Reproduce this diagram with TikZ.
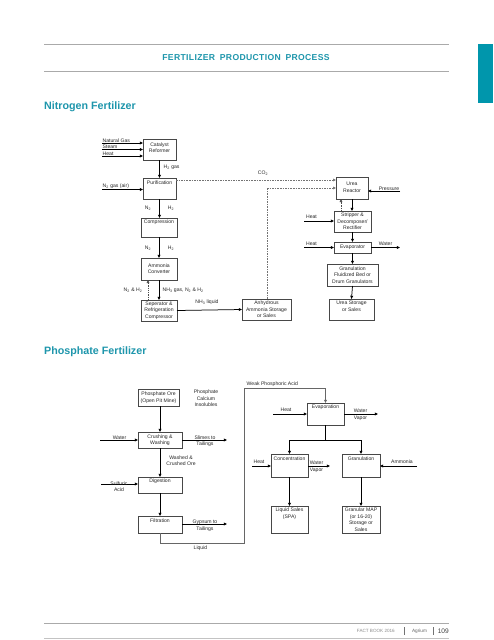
\documentclass[tikz,border=0pt]{standalone}
\usepackage{fontspec}
\setmainfont{Liberation Sans}
\usetikzlibrary{arrows.meta}
\definecolor{tabteal}{RGB}{0,150,172}
\definecolor{headteal}{RGB}{30,150,172}
\definecolor{rulegray}{RGB}{170,170,170}
\newcommand\mkbox[5]{\node[box, minimum width={#4-#2}, minimum height={#5-#3}] (#1) at ({(#2+#4)/2},{(#3+#5)/2}) {};}
\begin{document}
\begin{tikzpicture}[x=1pt,y=-1pt,
  box/.style={draw=black!72, line width=0.9pt, fill=white, inner sep=0pt, outer sep=0pt},
  lbl/.style={font=\fontsize{5.1}{6.6}\selectfont, inner sep=0.5pt, align=center, text=black!85},
  arr/.style={-{Triangle[length=3.2pt,width=2.8pt]}, line width=0.75pt},
  dotarr/.style={-{Triangle[length=3pt,width=2.6pt]}, line width=0.6pt, dash pattern=on 1pt off 0.8pt, draw=black!70},
  dsh/.style={line width=0.6pt, draw=black!55, dash pattern=on 1.6pt off 1pt},
  dsharr/.style={dsh, -{Triangle[length=3pt,width=2.6pt]}},
  head/.style={font=\bfseries\fontsize{10.7}{12}\selectfont, text=headteal, inner sep=0pt, anchor=west},
  rule/.style={draw=rulegray, line width=0.8pt}
]
\useasboundingbox (0,0) rectangle (493,640);
\fill[white] (0,0) rectangle (493,640);

% ---------- header ----------
\draw[rule] (44,44) coordinate (r1a) -- (449,44) coordinate (r1b);
\draw[rule] (44,71) coordinate (r2a) -- (449,71) coordinate (r2b);
\node[font=\bfseries\fontsize{8.6}{10}\selectfont\addfontfeature{LetterSpace=4}, text=headteal, inner sep=0pt] (title) at (246,58) {FERTILIZER\hspace{2pt} PRODUCTION\hspace{2pt} PROCESS};
\fill[tabteal] (478,44) rectangle (493,103);
\node[head] (nitro) at (44,107) {Nitrogen Fertilizer};
\node[head] (phos) at (44,352) {Phosphate Fertilizer};

% ---------- Nitrogen boxes ----------
\mkbox{cat}{143}{139}{176}{160}
\mkbox{pur}{143}{178}{176}{199}
\mkbox{comp}{141}{218}{177}{237}
\mkbox{conv}{141}{258}{177}{280}
\mkbox{sep}{141}{300}{177}{321}
\mkbox{anh}{242}{299}{291}{320}
\mkbox{urea}{336}{177}{368}{199}
\mkbox{strip}{334}{211}{371}{232}
\mkbox{evap}{334}{242}{371}{253}
\mkbox{gran}{327}{264}{378}{286}
\mkbox{ust}{329}{299}{374}{320}

\node[lbl] (catT) at (159.5,147.5) {Catalyst\\Reformer};
\node[lbl] (purT) at (159.5,182.5) {Purification};
\node[lbl] (compT) at (159,222.5) {Compression};
\node[lbl] (convT) at (159,268.5) {Ammonia\\Converter};
\node[lbl] (sepT) at (159,310.5) {Seperator \&\\Refrigeration\\Compressor};
\node[lbl] (anhT) at (266.5,309.5) {Anhydrous\\Ammonia Storage\\or Sales};
\node[lbl] (ureaT) at (352,187.5) {Urea\\Reactor};
\node[lbl] (stripT) at (352.5,221.5) {Stripper \&\\Decomposer/\\Rectifier};
\node[lbl] (evapT) at (352.5,247.5) {Evaporator};
\node[lbl] (granT) at (352.5,275) {Granulation\\Fluidized Bed or\\Drum Granulators};
\node[lbl] (ustT) at (351.5,306.5) {Urea Storage\\or Sales};

% inputs
\coordinate (ngS) at (102,143);
\coordinate (stS) at (102,149.5);
\coordinate (htS) at (102,156);
\draw[arr] (ngS) -- (ngS -| cat.west);
\draw[arr] (stS) -- (stS -| cat.west);
\draw[arr] (htS) -- (htS -| cat.west);
\node[lbl, anchor=south west] (ngL) at (ngS) {Natural Gas};
\node[lbl, anchor=south west] (stL) at (stS) {Steam};
\node[lbl, anchor=south west] (htL) at (htS) {Heat};
\coordinate (n2S) at (102,189.5);
\draw[arr] (n2S) -- (n2S -| pur.west);
\node[lbl, anchor=south west] (n2L) at (n2S) {N\textsubscript{2} gas (air)};

% main chain
\draw[arr] (cat.south) -- (pur.north);
\node[lbl, anchor=west] (h2gas) at (163,167) {H\textsubscript{2} gas};
\draw[arr] (pur.south) -- (pur.south |- comp.north);
\node[lbl] (n2a) at (148,208) {N\textsubscript{2}};
\node[lbl] (h2a) at (171,208) {H\textsubscript{2}};
\draw[arr] (comp.south) -- (conv.north);
\node[lbl] (n2b) at (148,248) {N\textsubscript{2}};
\node[lbl] (h2b) at (171,248) {H\textsubscript{2}};
\draw[arr] (conv.south) -- (sep.north);
\coordinate (recx) at (148,0);
\draw[dotarr] (sep.north -| recx) -- (conv.south -| recx);
\node[lbl, anchor=east] (n2h2) at (143,290) {N\textsubscript{2} \& H\textsubscript{2}};
\node[lbl, anchor=west] (nh3g) at (162,290) {NH\textsubscript{3} gas, N\textsubscript{2} \& H\textsubscript{2}};
\draw[arr] (sep.east) -- (anh.west);
\node[lbl] (nh3l) at (207,302) {NH\textsubscript{3} liquid};

% CO2 dashed lines
\coordinate (co2y) at (0,180);
\draw[dsharr] (pur.east |- co2y) -- (urea.west |- co2y);
\node[lbl] (co2) at (263,173) {CO\textsubscript{2}};
\coordinate (rety) at (0,188);
\coordinate (retx) at (267,0);
\draw[dsh] (anh.north -| retx) -- (retx |- rety);
\draw[dsharr] (retx |- rety) -- (urea.west |- rety);

% urea side
\coordinate (prS) at (400,191);
\draw[arr] (prS) -- (prS -| urea.east);
\node[lbl, anchor=south] (prL) at (389,191) {Pressure};
\draw[arr] (urea.south) -- (urea.south |- strip.north);
\coordinate (ux) at (341,0);
\draw[dotarr] (strip.north -| ux) -- (urea.south -| ux);
\coordinate (ht2S) at (304,221);
\draw[arr] (ht2S) -- (ht2S -| strip.west);
\node[lbl, anchor=south] (ht2L) at (311.5,219.5) {Heat};
\draw[arr] (strip.south) -- (evap.north);
\coordinate (ht3S) at (304,247.5);
\draw[arr] (ht3S) -- (ht3S -| evap.west);
\node[lbl, anchor=south] (ht3L) at (311.5,246) {Heat};
\coordinate (wtE) at (400,247.5);
\draw[arr] (evap.east |- wtE) -- (wtE);
\node[lbl, anchor=south] (wtL) at (385.5,246) {Water};
\draw[arr] (evap.south) -- (gran.north);
\draw[arr] (gran.south) -- (ust.north);

% ---------- Phosphate boxes ----------
\mkbox{ore}{138}{389}{179}{406}
\mkbox{crush}{138}{432}{182}{448}
\mkbox{dig}{138}{477}{182}{493}
\mkbox{filt}{138}{516}{182}{533}
\mkbox{evp}{307}{403}{344}{425}
\mkbox{conc}{271}{454}{308}{477}
\mkbox{grp}{342}{454}{380}{477}
\mkbox{liq}{271}{506}{308}{533}
\mkbox{map}{342}{506}{380}{533}

\node[lbl] (oreT) at (158.5,397.5) {Phosphate Ore\\(Open Pit Mine)};
\node[lbl] (crushT) at (160,440) {Crushing \&\\Washing};
\node[lbl] (digT) at (160,481) {Digestion};
\node[lbl] (filtT) at (160,521) {Filtration};
\node[lbl] (evpT) at (325.5,407.5) {Evaporation};
\node[lbl] (concT) at (289.5,459) {Concentration};
\node[lbl] (grpT) at (361,459) {Granulation};
\node[lbl] (liqT) at (289.5,513.5) {Liquid Sales\\(SPA)};
\node[lbl] (mapT) at (361,519.5) {Granular MAP\\(or 16-20)\\Storage or\\Sales};

\node[lbl] (pci) at (206,398.5) {Phosphate\\Calcium\\Insolubles};

\coordinate (oreX) at (160,0);
\draw[arr] (ore.south -| oreX) -- (crush.north -| oreX);
\coordinate (waS) at (100,440);
\draw[arr] (waS) -- (crush.west);
\node[lbl, anchor=south] (waL) at (119.5,440.5) {Water};
\coordinate (slE) at (227,440);
\draw[arr] (crush.east) -- (slE);
\node[lbl] (slL) at (205,441) {Slimes to\\Tailings};
\draw[arr] (crush.south) -- (dig.north);
\node[lbl] (wco) at (181,460.5) {Washed \&\\Crushed Ore};
\coordinate (saS) at (101,484);
\draw[arr] (saS) -- (saS -| dig.west);
\node[lbl] (saL) at (119,486.5) {Sulfuric\\Acid};
\draw[arr] (dig.south) -- (filt.north);
\coordinate (gyE) at (227,524);
\draw[arr] (filt.east |- gyE) -- (gyE);
\node[lbl] (gyL) at (205,525.5) {Gypsum to\\Tailings};

% liquid return line
\coordinate (lq1) at (160,543);
\coordinate (lq2) at (244,543);
\coordinate (lq3) at (244,388);
\coordinate (lq4) at (325.5,388);
\draw[arr, draw=black!60, line width=0.9pt] (filt.south) -- (lq1) -- (lq2) -- (lq3) -- (lq4) -- (evp.north);
\node[lbl] (liqL) at (200.5,548) {Liquid};
\node[lbl, anchor=south west] (wpa) at (246,387.5) {Weak Phosphoric Acid};

\coordinate (heS) at (273,414);
\draw[arr] (heS) -- (heS -| evp.west);
\node[lbl, anchor=south] (heL) at (286,412.5) {Heat};
\coordinate (wvE) at (378,414);
\draw[arr] (evp.east |- wvE) -- (wvE);
\node[lbl] (wvL) at (360.5,415) {Water\\Vapor};

\coordinate (spl) at (325.5,440);
\draw[line width=0.75pt] (evp.south) -- (spl);
\draw[arr] (spl) -| (conc.north);
\draw[arr] (spl) -| (grp.north);

\coordinate (hcS) at (252,466);
\draw[arr] (hcS) -- (hcS -| conc.west);
\node[lbl, anchor=south] (hcL) at (259,464.5) {Heat};
\coordinate (wcE) at (330,466);
\draw[arr] (conc.east |- wcE) -- (wcE);
\node[lbl] (wcL) at (316.5,467) {Water\\Vapor};
\coordinate (amS) at (417,466);
\draw[arr] (amS) -- (amS -| grp.east);
\node[lbl, anchor=south] (amL) at (402,464.5) {Ammonia};
\draw[arr] (conc.south) -- (liq.north);
\draw[arr] (grp.south) -- (map.north);

% ---------- footer ----------
\draw[rule] (44,623) coordinate (f1a) -- (449,623) coordinate (f1b);
\draw[draw=rulegray!70, line width=0.8pt] (44,638) coordinate (f2a) -- (449,638) coordinate (f2b);
\node[font=\fontsize{4.6}{5}\selectfont, text=black!45, inner sep=0pt, anchor=east] (fb) at (395,631) {FACT BOOK 2016};
\draw[draw=black!55, line width=0.5pt] (404,627) coordinate (b1a) -- (404,635) coordinate (b1b);
\node[font=\fontsize{4.7}{5}\selectfont, text=black!60, inner sep=0pt] (ag) at (419.5,631) {Agrium};
\draw[draw=black!55, line width=0.5pt] (433,627) coordinate (b2a) -- (433,635) coordinate (b2b);
\node[font=\fontsize{6.6}{7}\selectfont, text=black!75, inner sep=0pt, anchor=east] (pg) at (449,631) {109};
\end{tikzpicture}
\end{document}
